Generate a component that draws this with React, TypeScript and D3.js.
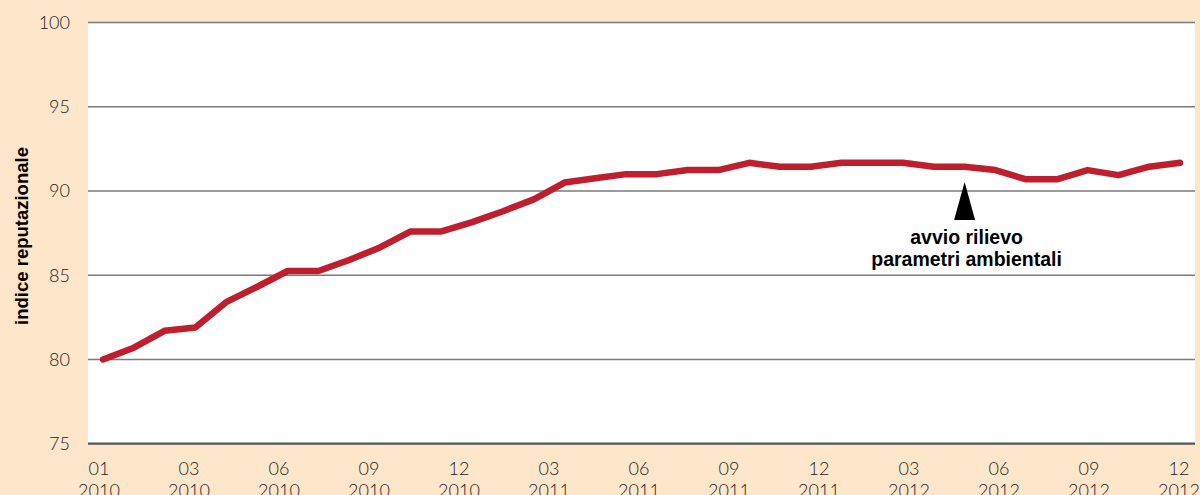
import * as d3 from "d3";

const months = d3.range(36).map((i) => `${String((i % 12) + 1).padStart(2, "0")}/${2010 + Math.floor(i / 12)}`);

const indexValues = [
  80.0, 80.7, 81.7, 81.9, 83.4, 84.3, 85.25, 85.25, 85.9, 86.65, 87.6, 87.6,
  88.15, 88.8, 89.5, 90.5, 90.75, 91.0, 91.0, 91.24, 91.24, 91.67, 91.44, 91.44,
  91.67, 91.67, 91.67, 91.44, 91.44, 91.24, 90.69, 90.69, 91.24, 90.94, 91.44, 91.67,
];

const tickMonths = ["01", "03", "06", "09", "12", "03", "06", "09", "12", "03", "06", "09", "12"];
const tickYears = ["2010", "2010", "2010", "2010", "2010", "2011", "2011", "2011", "2011", "2012", "2012", "2012", "2012"];
const yTicks = [75, 80, 85, 90, 95, 100];

const annotationMonth = "05/2012";
const annotationLines = ["avvio rilievo", "parametri ambientali"];

const W = 1200;
const H = 495;
const plot = { left: 88, right: 1195, top: 22.5, bottom: 443.7 };

export default function App() {
  const x = d3.scalePoint<string>().domain(months).range([103, 1180]);
  const y = d3.scaleLinear().domain([75, 100]).range([plot.bottom, plot.top]);
  // the printed month labels are spread evenly, not on the data months
  const xLabel = d3
    .scalePoint<number>()
    .domain(d3.range(tickMonths.length))
    .range([99, 1179]);

  const line = d3
    .line<number>()
    .x((_, i) => x(months[i])!)
    .y((d) => y(d));

  const ax = x(annotationMonth)!;
  const apexY = 182;

  const tickFont = "'Lato', 'Open Sans', 'Liberation Sans', sans-serif";
  const boldFont = "'Liberation Sans Narrow', 'Liberation Sans', Arial, sans-serif";

  return (
    <svg
      width={W}
      height={H}
      style={{ position: "absolute", left: 0, top: 0, display: "block" }}
    >
      <rect width={W} height={H} fill="#fee6cb" />
      <rect
        x={plot.left}
        y={plot.top}
        width={plot.right - plot.left}
        height={plot.bottom - plot.top}
        fill="#ffffff"
      />

      {yTicks.map((t) => (
        <g key={t}>
          <line
            x1={plot.left}
            x2={plot.right}
            y1={y(t)}
            y2={y(t)}
            stroke={t === 75 ? "#555555" : "#7a7a7a"}
            strokeWidth={t === 75 ? 2.2 : 1.4}
          />
          <text
            x={70}
            y={y(t)}
            dy="0.35em"
            textAnchor="end"
            fontFamily={tickFont}
            fontWeight={300}
            fontSize={18}
            fill="#222"
          >
            {t}
          </text>
        </g>
      ))}

      {tickMonths.map((m, i) => (
        <text
          key={i}
          x={xLabel(i)}
          textAnchor="middle"
          fontFamily={tickFont}
          fontWeight={300}
          fontSize={18}
          fill="#222"
        >
          <tspan x={xLabel(i)} y={475}>
            {m}
          </tspan>
          <tspan x={xLabel(i)} y={497}>
            {tickYears[i]}
          </tspan>
        </text>
      ))}

      <text
        transform={`translate(28, 236) rotate(-90)`}
        textAnchor="middle"
        fontFamily={boldFont}
        fontWeight="bold"
        fontSize={18.5}
        fill="#000"
      >
        indice reputazionale
      </text>

      <path
        d={line(indexValues) ?? ""}
        fill="none"
        stroke="#be1e2d"
        strokeWidth={6.5}
        strokeLinejoin="round"
        strokeLinecap="round"
      />

      <path
        d={`M${ax},${apexY} L${ax + 10.5},${apexY + 38} L${ax - 10.5},${apexY + 38} Z`}
        fill="#000"
      />
      {annotationLines.map((s, i) => (
        <text
          key={s}
          x={ax + 2}
          y={244 + i * 22}
          textAnchor="middle"
          fontFamily={boldFont}
          fontWeight="bold"
          fontSize={19.5}
          fill="#000"
        >
          {s}
        </text>
      ))}
    </svg>
  );
}
